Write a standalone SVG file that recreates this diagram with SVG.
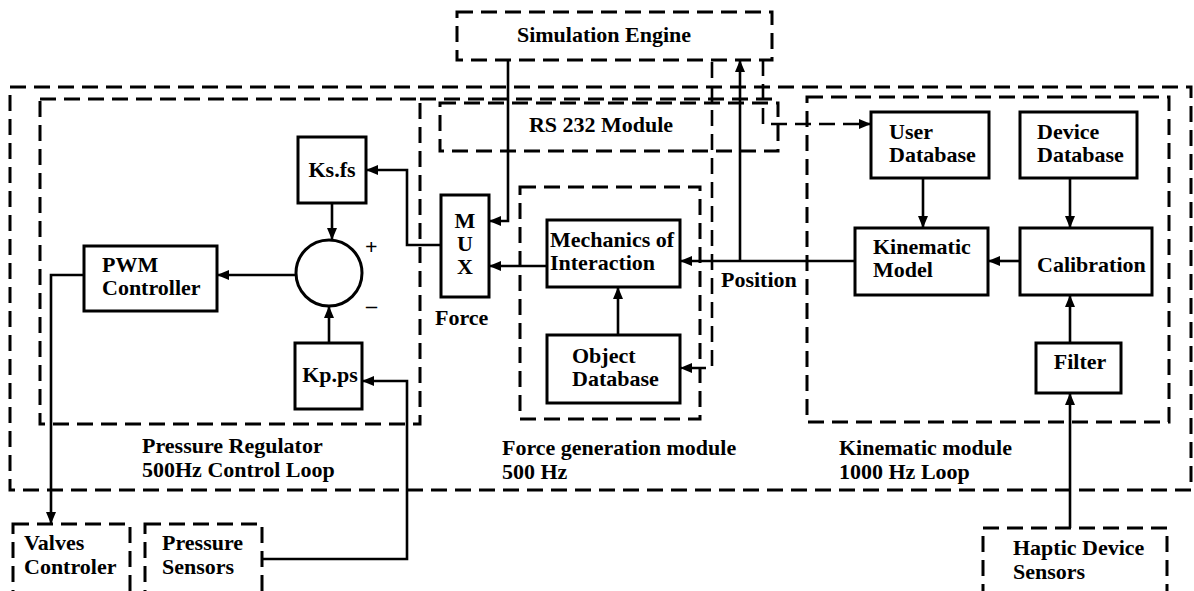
<svg xmlns="http://www.w3.org/2000/svg" width="1194" height="591" viewBox="0 0 1194 591">
<style>
text{font-family:"Liberation Serif","Times New Roman",serif;font-weight:bold;font-size:22px;fill:#000}
.box{fill:none;stroke:#000;stroke-width:3}
.dash{fill:none;stroke:#000;stroke-width:3;stroke-dasharray:16 8}
.ln{fill:none;stroke:#000;stroke-width:2.6}
.dln{fill:none;stroke:#000;stroke-width:2.6;stroke-dasharray:16 8}
.mid{text-anchor:middle}
</style>
<defs>
<marker id="ah" viewBox="0 0 12 10" refX="12" refY="5" markerWidth="13" markerHeight="10" orient="auto" markerUnits="userSpaceOnUse"><path d="M0,0 L12,5 L0,10 z" fill="#000"/></marker>
</defs>
<rect width="1194" height="591" fill="#fff"/>

<!-- module frames -->
<g id="outer-frame"><rect class="dash" x="10" y="87" width="1181" height="403"/></g>
<g id="pressure-regulator">
<rect class="dash" x="40" y="99" width="380" height="325"/>
<line class="dash" x1="420" y1="99" x2="776" y2="99"/>
<text x="142" y="453">Pressure Regulator</text>
<text x="142" y="477">500Hz Control Loop</text>
</g>
<g id="force-generation">
<rect class="dash" x="520" y="187" width="180" height="232"/>
<text x="502" y="455">Force generation module</text>
<text x="502" y="479">500 Hz</text>
</g>
<g id="kinematic-module">
<rect class="dash" x="807" y="97" width="362" height="325"/>
<text x="839" y="455">Kinematic module</text>
<text x="839" y="479">1000 Hz Loop</text>
</g>

<!-- nodes -->
<g id="simulation-engine"><rect class="dash" x="457" y="12" width="315" height="48"/><text class="mid" x="604" y="42">Simulation Engine</text></g>
<g id="rs232"><rect class="dash" x="440" y="103" width="338" height="48"/><text class="mid" x="601" y="132">RS 232 Module</text></g>
<g id="ksfs"><rect class="box" x="298" y="137" width="68" height="66"/><text class="mid" x="332" y="177">Ks.fs</text></g>
<g id="sum"><circle class="box" cx="329" cy="273" r="33"/><text x="365" y="254">+</text><text x="366" y="313">–</text></g>
<g id="pwm"><rect class="box" x="84" y="246" width="133" height="65"/><text x="102" y="272">PWM</text><text x="102" y="295">Controller</text></g>
<g id="kpps"><rect class="box" x="295" y="343" width="67" height="66"/><text class="mid" x="330" y="382">Kp.ps</text></g>
<g id="mux"><rect class="box" x="441" y="195" width="48" height="102"/><text class="mid" x="465" y="228">M</text><text class="mid" x="465" y="251">U</text><text class="mid" x="465" y="274">X</text><text x="435" y="325">Force</text></g>
<g id="mechanics"><rect class="box" x="547" y="220" width="133" height="67"/><text x="550" y="247">Mechanics of</text><text x="550" y="270">Interaction</text></g>
<g id="object-db"><rect class="box" x="547" y="335" width="133" height="68"/><text x="572" y="363">Object</text><text x="572" y="386">Database</text></g>
<g id="user-db"><rect class="box" x="871" y="112" width="118" height="66"/><text x="889" y="139">User</text><text x="889" y="162">Database</text></g>
<g id="device-db"><rect class="box" x="1020" y="112" width="117" height="66"/><text x="1037" y="139">Device</text><text x="1037" y="162">Database</text></g>
<g id="kinematic-model"><rect class="box" x="855" y="228" width="133" height="67"/><text x="873" y="254">Kinematic</text><text x="873" y="277">Model</text></g>
<g id="calibration"><rect class="box" x="1020" y="228" width="132" height="67"/><text x="1037" y="272">Calibration</text></g>
<g id="filter"><rect class="box" x="1036" y="343" width="85" height="50"/><text class="mid" x="1080" y="369">Filter</text></g>
<g id="valves"><rect class="dash" x="13" y="524" width="117" height="80"/><text x="24" y="550">Valves</text><text x="24" y="574">Controler</text></g>
<g id="pressure-sensors"><rect class="dash" x="145" y="524" width="117" height="80"/><text x="162" y="550">Pressure</text><text x="162" y="574">Sensors</text></g>
<g id="haptic"><rect class="dash" x="983" y="528" width="184" height="80"/><text x="1013" y="555">Haptic Device</text><text x="1013" y="579">Sensors</text></g>
<g id="position-label"><text x="721" y="287">Position</text></g>

<!-- connectors -->
<g id="connectors">
<path class="ln" marker-end="url(#ah)" d="M508,60 V221 H489"/>
<path class="ln" marker-end="url(#ah)" d="M547,266 H489"/>
<path class="ln" marker-end="url(#ah)" d="M441,245 H407 V170 H366"/>
<path class="ln" marker-end="url(#ah)" d="M332,203 V240"/>
<path class="ln" marker-end="url(#ah)" d="M329,343 V306"/>
<path class="ln" marker-end="url(#ah)" d="M296,275 H217"/>
<path class="ln" marker-end="url(#ah)" d="M84,275 H51 V524"/>
<path class="ln" marker-end="url(#ah)" d="M262,559 H407 V381 H362"/>
<path class="ln" marker-end="url(#ah)" d="M855,261 H680"/>
<path class="ln" marker-end="url(#ah)" d="M740,261 V60"/>
<path class="ln" marker-end="url(#ah)" d="M618,335 V287"/>
<path class="ln" marker-end="url(#ah)" d="M923,178 V228"/>
<path class="ln" marker-end="url(#ah)" d="M1070,178 V228"/>
<path class="ln" marker-end="url(#ah)" d="M1020,261 H988"/>
<path class="ln" marker-end="url(#ah)" d="M1070,343 V295"/>
<path class="ln" marker-end="url(#ah)" d="M1070,528 V393"/>
<path class="dln" marker-end="url(#ah)" d="M763,60 V124 H871"/>
<path class="dln" marker-end="url(#ah)" d="M712,62 V368 H680"/>
</g>
</svg>
